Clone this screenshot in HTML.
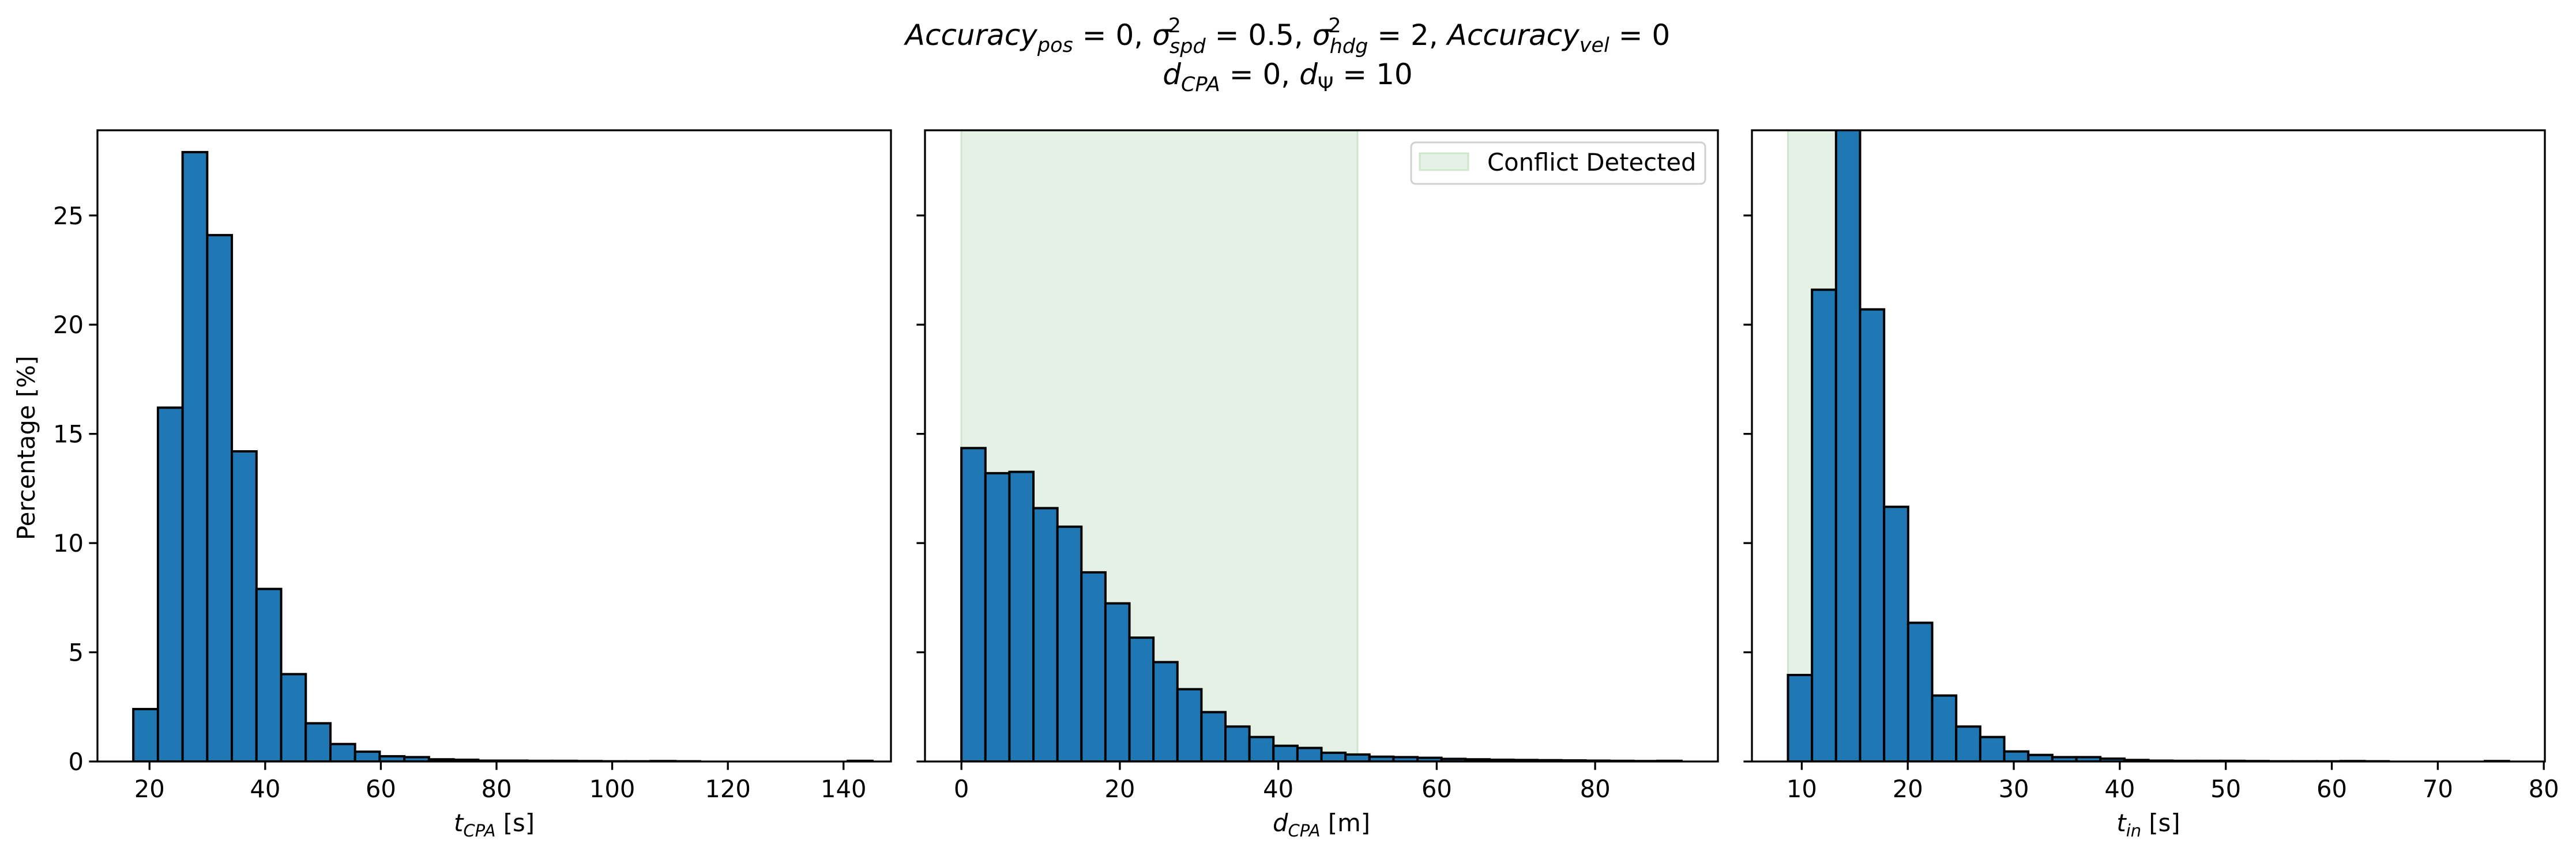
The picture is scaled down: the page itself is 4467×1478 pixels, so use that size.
<!DOCTYPE html>
<html><head><meta charset="utf-8">
<style>
html,body{margin:0;padding:0;background:#fff;}
svg{display:block;font-family:"DejaVu Sans","Liberation Sans",sans-serif;}
</style></head>
<body>
<svg id="fig" width="4467" height="1478" viewBox="0 0 4467 1478" xmlns="http://www.w3.org/2000/svg">
<rect x="0" y="0" width="4467" height="1478" fill="#fff"/>
<text x="2233" y="78" font-size="50" text-anchor="middle"><tspan font-style="italic">Accuracy</tspan><tspan font-style="italic" font-size="35" dy="12">pos</tspan><tspan dy="-12"> = 0, </tspan><tspan font-style="italic">σ</tspan><tspan font-size="35" dx="-4" dy="-22">2</tspan><tspan font-style="italic" font-size="35" dx="-20" dy="36">spd</tspan><tspan dy="-14"> = 0.5, </tspan><tspan font-style="italic">σ</tspan><tspan font-size="35" dx="-4" dy="-22">2</tspan><tspan font-style="italic" font-size="35" dx="-20" dy="36">hdg</tspan><tspan dy="-14"> = 2, </tspan><tspan font-style="italic">Accuracy</tspan><tspan font-style="italic" font-size="35" dy="12">vel</tspan><tspan dy="-12"> = 0</tspan></text>
<text x="2233" y="146" font-size="50" text-anchor="middle"><tspan font-style="italic">d</tspan><tspan font-style="italic" font-size="35" dy="12">CPA</tspan><tspan dy="-12"> = 0, </tspan><tspan font-style="italic">d</tspan><tspan font-size="35" dy="12">Ψ</tspan><tspan dy="-12"> = 10</tspan></text>
<text x="0" y="0" font-size="41.7" text-anchor="middle" transform="translate(60,777) rotate(-90)">Percentage [%]</text>
<g id="plots"></g>
</svg>
<script>
// ---- data ----
const yTicks = [0, 5, 10, 15, 20, 25];
const yMax = 28.9;

const tcpaStart = 17.2, tcpaWidth = 4.26;
const tcpaValues = [2.4,16.2,27.9,24.1,14.2,7.9,4.0,1.75,0.8,0.45,0.24,0.2,0.1,0.08,0.04,0.04,0.03,0.03,0.02,0.01,0.01,0.02,0.01,0,0,0,0,0,0,0.03];
const tcpaTicks = [20,40,60,80,100,120,140];

const dcpaStart = 0, dcpaWidth = 3.03;
const dcpaValues = [14.35,13.2,13.26,11.6,10.75,8.66,7.24,5.67,4.55,3.31,2.26,1.6,1.12,0.72,0.62,0.4,0.32,0.22,0.2,0.17,0.12,0.1,0.08,0.07,0.06,0.05,0.04,0.03,0.02,0.03];
const dcpaTicks = [0,20,40,60,80];
const dcpaConflict = [0, 50];

const tinStart = 8.7, tinWidth = 2.267;
const tinValues = [3.96,21.6,30.5,20.7,11.66,6.35,3.02,1.6,1.12,0.46,0.3,0.2,0.2,0.13,0.07,0.04,0.03,0.03,0.03,0.02,0.01,0.01,0.01,0.02,0.01,0,0,0,0,0.02];
const tinTicks = [10,20,30,40,50,60,70,80];
const tinConflict = [8.7, 15.0];

const xLabels = ["t", "d", "t"];
const xSubs = ["CPA", "CPA", "in"];
const xUnits = [" [s]", " [m]", " [s]"];

const NS = "http://www.w3.org/2000/svg";
const yTop = 226, yBottom = 1321;
function mk(tag, attrs, parent){
  const e = document.createElementNS(NS, tag);
  for (const k in attrs) e.setAttribute(k, attrs[k]);
  parent.appendChild(e); return e;
}
const root = document.getElementById('plots');
const panels = [
  {left:169, right:1545, xmin:11.0, xmax:148.2, start:tcpaStart, w:tcpaWidth, vals:tcpaValues, ticks:tcpaTicks, span:null, ylab:true, name:'tcpa'},
  {left:1604, right:2979, xmin:-4.6, xmax:95.5, start:dcpaStart, w:dcpaWidth, vals:dcpaValues, ticks:dcpaTicks, span:dcpaConflict, ylab:false, name:'dcpa'},
  {left:3038, right:4413, xmin:5.3, xmax:80.1, start:tinStart, w:tinWidth, vals:tinValues, ticks:tinTicks, span:tinConflict, ylab:false, name:'tin'}
];
panels.forEach((p, pi) => {
  const g = mk('g', {}, root);
  
  
  const sx = v => p.left + (v - p.xmin) / (p.xmax - p.xmin) * (p.right - p.left);
  const sy = v => yBottom - v / yMax * (yBottom - yTop);
  const cid = 'clip' + pi;
  const cp = mk('clipPath', {id: cid}, g);
  mk('rect', {x:p.left, y:yTop, width:p.right-p.left, height:yBottom-yTop}, cp);
  const inner = mk('g', {'clip-path': 'url(#' + cid + ')'}, g);
  if (p.span) {
    const s = mk('rect', {x:sx(p.span[0]), y:yTop, width:sx(p.span[1])-sx(p.span[0]), height:yBottom-yTop, fill:'#e5f1e4', stroke:'#cfe6cd', 'stroke-width':3}, inner);
    
    
  }
  p.vals.forEach((v, i) => {
    const x0 = sx(p.start + i * p.w), x1 = sx(p.start + (i + 1) * p.w);
    const r = mk('rect', {x:x0, y:sy(v), width:x1-x0, height:yBottom-sy(v), fill:'#1f77b4', stroke:'#000', 'stroke-width':4}, inner);
    
    
  });
  const fr = mk('rect', {x:p.left, y:yTop, width:p.right-p.left, height:yBottom-yTop, fill:'none', stroke:'#000', 'stroke-width':3.3}, g);
  
  
  yTicks.forEach(t => {
    mk('line', {x1:p.left-14.6, x2:p.left, y1:sy(t), y2:sy(t), stroke:'#000', 'stroke-width':3.3}, g);
    if (p.ylab) {
      const tx = mk('text', {x:p.left-24, y:sy(t)+15, 'font-size':41.7, 'text-anchor':'end'}, g);
      tx.textContent = t;
      
      
    }
  });
  p.ticks.forEach(t => {
    mk('line', {x1:sx(t), x2:sx(t), y1:yBottom, y2:yBottom+14.6, stroke:'#000', 'stroke-width':3.3}, g);
    const tx = mk('text', {x:sx(t), y:yBottom+62, 'font-size':41.7, 'text-anchor':'middle'}, g);
    tx.textContent = t;
    
    
  });
  const xl = mk('text', {x:(p.left+p.right)/2, y:1442, 'font-size':41.7, 'text-anchor':'middle'}, g);
  
  
  const a = mk('tspan', {'font-style':'italic'}, xl); a.textContent = xLabels[pi];
  const b = mk('tspan', {'font-style':'italic', 'font-size':29, dy:9}, xl); b.textContent = xSubs[pi];
  const c = mk('tspan', {dy:-9}, xl); c.textContent = xUnits[pi];
});
// legend
const lg = mk('g', {}, root);


mk('rect', {x:2447, y:247, width:510, height:72, rx:8, fill:'#fff', 'fill-opacity':0.8, stroke:'#d0d0d0', 'stroke-width':3}, lg);
const lp = mk('rect', {x:2462, y:266, width:84, height:29, fill:'#e5f1e4', stroke:'#cfe6cd', 'stroke-width':3}, lg);


const lt = mk('text', {x:2579, y:296, 'font-size':41.7}, lg);
lt.textContent = 'Conflict Detected';


</script>
</body></html>
